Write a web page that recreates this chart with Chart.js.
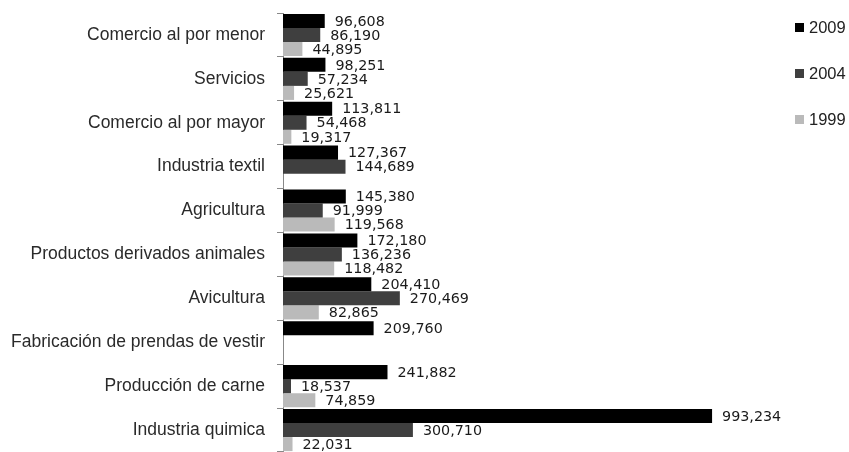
<!DOCTYPE html>
<html>
<head>
<meta charset="utf-8">
<script src="https://cdn.jsdelivr.net/npm/chart.js@4"></script>
<style>
  html, body { margin: 0; padding: 0; background: #fff; }
  #wrap { position: relative; width: 849px; height: 452px; }
  #legend { position: absolute; left: 795px; top: 18px; font: 16.5px "Liberation Sans", Arial, sans-serif; color: #222; }
  #legend div { height: 46px; display: flex; align-items: flex-start; }
  #legend span.box { display: inline-block; width: 9px; height: 9px; margin: 5px 5px 0 0; }
</style>
</head>
<body>
<div id="wrap">
  <canvas id="chart" width="849" height="452"></canvas>
  <div id="legend"></div>
</div>
<script>
// Data
const categories = [
  "Comercio al por menor", "Servicios", "Comercio al por mayor", "Industria textil",
  "Agricultura", "Productos derivados animales", "Avicultura",
  "Fabricación de prendas de vestir", "Producción de carne", "Industria quimica"
];
const values2009 = [96608, 98251, 113811, 127367, 145380, 172180, 204410, 209760, 241882, 993234];
const values2004 = [86190, 57234, 54468, 144689, 91999, 136236, 270469, null, 18537, 300710];
const values1999 = [44895, 25621, 19317, null, 119568, 118482, 82865, null, 74859, 22031];
const seriesNames = ["2009", "2004", "1999"];
const seriesColors = ["#000000", "#3f3f3f", "#bababa"];

// Legend (HTML)
const legend = document.getElementById("legend");
seriesNames.forEach((name, i) => {
  const row = document.createElement("div");
  row.innerHTML = '<span class="box" style="background:' + seriesColors[i] + '"></span>' + name;
  legend.appendChild(row);
});

// Value labels next to bars
const valueLabels = {
  id: "valueLabels",
  afterDatasetsDraw(chart) {
    const ctx = chart.ctx;
    ctx.save();
    ctx.font = '14.3px "DejaVu Sans", sans-serif';
    ctx.fillStyle = "#1a1a1a";
    ctx.textBaseline = "middle";
    chart.data.datasets.forEach((ds, i) => {
      chart.getDatasetMeta(i).data.forEach((bar, j) => {
        const v = ds.data[j];
        if (v == null) return;
        ctx.fillText(v.toLocaleString("en-US"), bar.x + 10, bar.y + 1);
      });
    });
    ctx.restore();
  }
};

const ctx = document.getElementById("chart").getContext("2d");
new Chart(ctx, {
  type: "bar",
  data: {
    labels: categories,
    datasets: [
      { label: seriesNames[0], data: values2009, backgroundColor: seriesColors[0] },
      { label: seriesNames[1], data: values2004, backgroundColor: seriesColors[1] },
      { label: seriesNames[2], data: values1999, backgroundColor: seriesColors[2] }
    ]
  },
  options: {
    indexAxis: "y",
    responsive: false,
    animation: false,
    datasets: { bar: { categoryPercentage: 0.96, barPercentage: 1.0 } },
    layout: { padding: { left: 8, right: 134, top: 13, bottom: 0 } },
    plugins: { legend: { display: false }, tooltip: { enabled: false } },
    scales: {
      x: { display: false, min: 0, max: 1000000 },
      y: {
        afterFit: (scale) => {
          scale.width = 275;
          scale.paddingTop = 0;
          scale.paddingBottom = 0;
        },
        grid: { offset: true, drawOnChartArea: false, tickLength: 6, color: "#888" },
        border: { display: true, color: "#888", width: 1 },
        ticks: { color: "#2a2a2a", padding: 12, font: { family: '"Liberation Sans", Arial, sans-serif', size: 17.5 } }
      }
    }
  },
  plugins: [valueLabels]
});
</script>
</body>
</html>
